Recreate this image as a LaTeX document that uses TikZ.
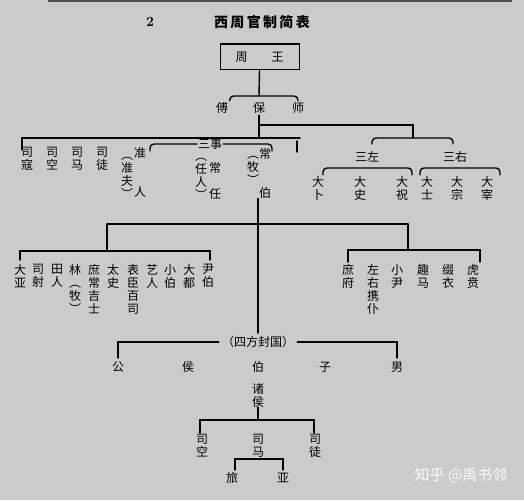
\documentclass[tikz,border=0pt]{standalone}
\usepackage{fontspec}
\newfontfamily\cjk{Noto Sans CJK SC}
\usepackage{tikz}
\usetikzlibrary{calc,
                positioning}
\definecolor{paper}{HTML}{CBCBCB}
\newcommand{\op}{\vphantom{准}︵}
\tikzset{
        vtext/.style={font=\cjk\fontsize{12}{13}\selectfont, align=center,
                      inner sep=0pt, anchor=north},
        lbl/.style={font=\cjk\fontsize{12}{13}\selectfont, inner sep=1.5pt},
        link/.style={line width=1.4pt, line cap=round},
        curly/.style={link, rounded corners=4pt},
 }

\begin{document}
\begin{tikzpicture}[x=1pt, y=-1pt]
    \fill[paper] (0,0) rectangle (524,500);
    \useasboundingbox (0,0) rectangle (524,500);
    \fill[gray!60!black] (48,0) rectangle (512,2);

    % title
    \node[font=\bfseries\fontsize{14}{14}\selectfont] (num) at (150,22) {2};
    \node[font=\cjk\bfseries\fontsize{14}{14}\selectfont] (title) at (262,22)
         {西\,周\,官\,制\,简\,表};

    \node[draw, line width=1pt, minimum width=79, minimum height=25,
          lbl] (wang) at (259.5,57.5) {周\hspace{24pt}王};
    \draw[line width=2pt] (wang.north west) -- (wang.north east);

    \node[lbl] (fu) at (222,108) {傅};
    \node[lbl] (bao) at (259,108) {保};
    \node[lbl] (shi) at (298,108) {师};
    \coordinate (fbs) at (259,96);
    \draw[link] (wang.south) -- (fbs);
    \draw[curly] (fu.north east) |- (fbs) -| (shi.north);

    % first level
    \coordinate (bl) at (22,150);
    \coordinate (br) at (300,138);
    \coordinate (bt) at (297,141);
    \coordinate (bb) at (297,152);
    \draw[link] (bao.south) -- (bao.south |- br);
    \draw[link] (bl) |- (br);
    \draw[link] (bt) -- (bb);

    \node[vtext] (sikou) at (27,147) {司\\寇};
    \node[vtext] (sikong) at (52,147) {司\\空};
    \node[vtext] (sima) at (77,147) {司\\马};
    \node[vtext] (situ) at (102,147) {司\\徒};
    \node[vtext] (zhunfu) at (127,149) {\op\\准\\夫\\︶};
    \node[vtext] (zhunren) at (140,147) {准\\\mbox{}\\\mbox{}\\人};
    \node[vtext] (renren) at (201,150) {\op\\任\\人\\︶};
    \node[vtext] (changren) at (215,162) {常\\\mbox{}\\任};
    \node[vtext] (mu) at (253,148) {\op\\牧\\︶};
    \node[vtext] (changbo) at (265,148) {常\\\mbox{}\\\mbox{}\\伯};

    \node[lbl, inner sep=1pt] (sanshi) at (210,144) {三事};
    \coordinate (sl) at (150,151);
    \coordinate (sr) at (272,151);
    \draw[curly] (sl) |- (sanshi) -| (sr);

    % right branch
    \coordinate (rj) at (413,125);
    \coordinate (zy) at (413,138);
    \coordinate (zl) at (372,144);
    \coordinate (zr) at (453,144);
    \draw[link] (bao.south |- rj) -- (rj) -- (zy);
    \draw[curly] (zl) |- (zy) -| (zr);

    \node[lbl] (sanzuo) at (367,157) {三左};
    \node[lbl] (sanyou) at (455,157) {三右};
    \node[vtext] (dabu) at (318,176) {大\\卜};
    \node[vtext] (dashi) at (360,176) {大\\史};
    \node[vtext] (dazhu) at (402,176) {大\\祝};
    \node[vtext] (dashi2) at (427,176) {大\\士};
    \node[vtext] (dazong) at (457,176) {大\\宗};
    \node[vtext] (dazai) at (487,176) {大\\宰};
    \coordinate (al) at (323,175);
    \coordinate (ar) at (412,175);
    \coordinate (cl) at (420,175);
    \coordinate (cr) at (500,175);
    \coordinate (am) at (367,168);
    \coordinate (cm) at (455,168);
    \draw[curly] (al) |- (am) -| (ar);
    \draw[curly] (cl) |- (cm) -| (cr);

    % second level
    \node[lbl, fill=paper, inner sep=3pt] (fengguo) at (258,342) {（四方封国）};
    \coordinate (hl) at (107,224);
    \coordinate (hr) at (408,224);
    \draw[link] (changbo.south -| fengguo) -- (fengguo.north);
    \draw[link] (hl) -- (hr);

    \node[vtext] (daya) at (20,264) {大\\亚};
    \node[vtext] (sishe) at (38,264) {司\\射};
    \node[vtext] (tianren) at (57,264) {田\\人};
    \node[vtext] (linmu) at (75,264) {林\\︵\\牧\\︶};
    \node[vtext] (shuchang) at (94,264) {庶\\常\\吉\\士};
    \node[vtext] (taishi) at (113,264) {太\\史};
    \node[vtext] (biaochen) at (133,264) {表\\臣\\百\\司};
    \node[vtext] (yiren) at (152,264) {艺\\人};
    \node[vtext] (xiaobo) at (170,264) {小\\伯};
    \node[vtext] (dadu) at (189,264) {大\\都};
    \node[vtext] (yinbo) at (208,264) {尹\\伯};
    \coordinate (lm) at (107,251);
    \coordinate (ll) at (20,260);
    \coordinate (lr) at (210,260);
    \draw[link] (hl) -- (lm);
    \draw[link] (ll) |- (lm) -| (lr);

    \node[vtext] (shufu) at (348,264) {庶\\府};
    \node[vtext] (xiepu) at (373,264) {左\\右\\携\\仆};
    \node[vtext] (xiaoyin) at (397,264) {小\\尹};
    \node[vtext] (quma) at (423,264) {趣\\马};
    \node[vtext] (zhuiyi) at (448,264) {缀\\衣};
    \node[vtext] (huben) at (473,264) {虎\\贲};
    \coordinate (rm) at (408,250);
    \coordinate (rl) at (348,262);
    \coordinate (rr) at (480,262);
    \draw[link] (hr) -- (rm);
    \draw[link] (rl) |- (rm) -| (rr);

    % fiefs
    \node[lbl] (gong) at (118,367) {公};
    \node[lbl] (hou) at (188,367) {侯};
    \node[lbl] (bo) at (258,367) {伯};
    \node[lbl] (zi) at (325,367) {子};
    \node[lbl] (nan) at (397,367) {男};
    \coordinate (gl) at (118,358);
    \coordinate (gr) at (397,358);
    \draw[link] (gl) |- (fengguo) -| (gr);

    \node[vtext, anchor=center] (zhuhou) at (258,395) {诸\\侯};
    \coordinate (zm) at (258,420);
    \coordinate (kl) at (200,433);
    \coordinate (kr) at (314,433);
    \draw[link] (zhuhou.south) -- (zm);
    \draw[link] (kl) |- (zm) -| (kr);
    \node[vtext] (sikong2) at (202,434) {司\\空};
    \node[vtext] (sima2) at (258,434) {司\\马};
    \node[vtext] (situ2) at (315,434) {司\\徒};

    \node[lbl] (lv) at (232,478) {旅};
    \node[lbl] (ya) at (283,478) {亚};
    \coordinate (mm) at (258,459);
    \coordinate (ml) at (235,470);
    \coordinate (mr) at (283,470);
    \draw[link] (ml) |- (mm) -| (mr);

    \node[font=\cjk\fontsize{15}{15}\selectfont, text=white!90!paper]
         (mark) at (461,475) {知乎 @禹书邻};
\end{tikzpicture}
\end{document}
